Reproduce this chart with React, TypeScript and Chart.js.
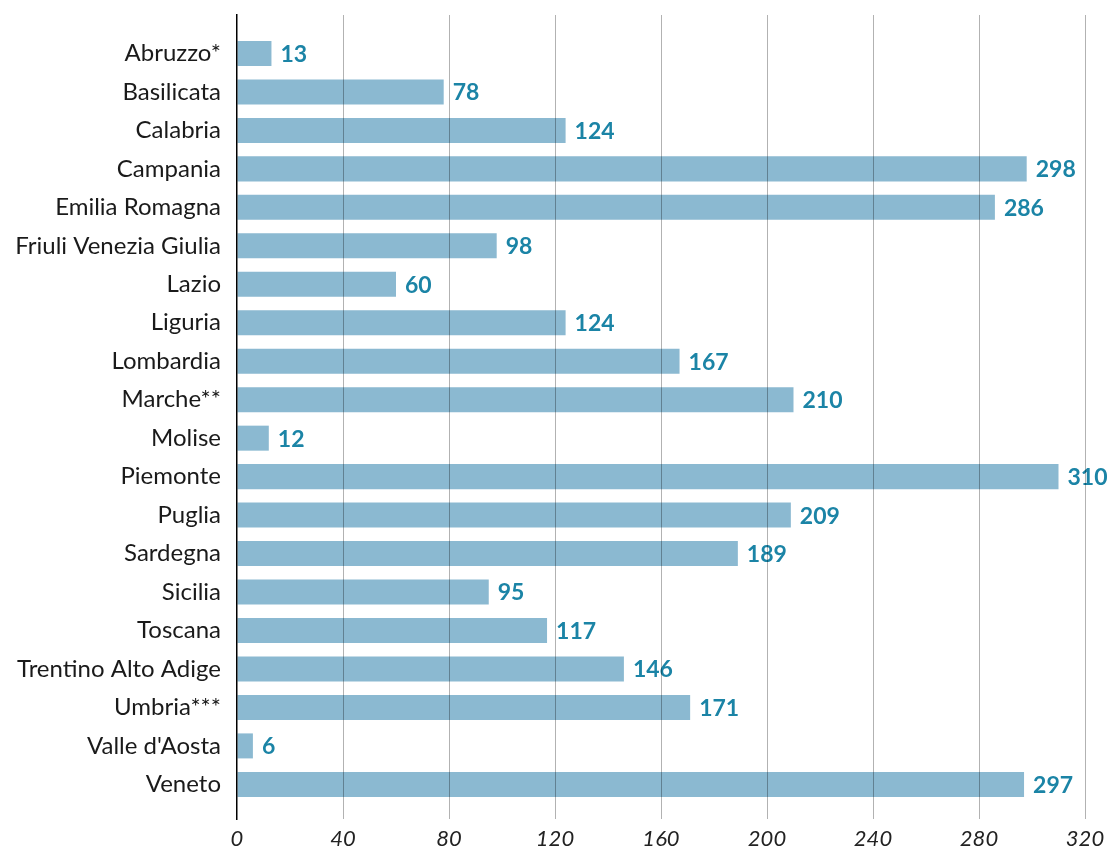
import React, { useEffect, useRef } from "react";
import { Chart, registerables } from "chart.js";

Chart.register(...registerables);

const regions: string[] = [
  "Abruzzo*",
  "Basilicata",
  "Calabria",
  "Campania",
  "Emilia Romagna",
  "Friuli Venezia Giulia",
  "Lazio",
  "Liguria",
  "Lombardia",
  "Marche**",
  "Molise",
  "Piemonte",
  "Puglia",
  "Sardegna",
  "Sicilia",
  "Toscana",
  "Trentino Alto Adige",
  "Umbria***",
  "Valle d'Aosta",
  "Veneto",
];

const values: number[] = [13, 78, 124, 298, 286, 98, 60, 124, 167, 210, 12, 310, 209, 189, 95, 117, 146, 171, 6, 297];

const xTicks: number[] = [0, 40, 80, 120, 160, 200, 240, 280, 320];

const BAR_COLOR = "#8bb9d1";
const LABEL_COLOR = "#1b84a6";

export default function App() {
  const canvasRef = useRef<HTMLCanvasElement | null>(null);

  useEffect(() => {
    document.body.style.margin = "0";
    const canvas = canvasRef.current;
    if (!canvas) return;

    const valueLabels = {
      id: "valueLabels",
      afterDatasetsDraw(chart: any) {
        const ctx = chart.ctx;
        const meta = chart.getDatasetMeta(0);
        ctx.save();
        ctx.fillStyle = LABEL_COLOR;
        ctx.font = "bold 23px Lato";
        ctx.textAlign = "left";
        ctx.textBaseline = "middle";
        meta.data.forEach((bar: any, i: number) => {
          ctx.fillText(String(values[i]), bar.x + 9, bar.y + 1);
        });
        ctx.restore();
      },
    };

    const chart = new Chart(canvas, {
      type: "bar",
      data: {
        datasets: [
          {
            data: values.map((v, i) => ({ x: v, y: i })),
            backgroundColor: BAR_COLOR,
            borderWidth: 0,
            barPercentage: 0.65,
            categoryPercentage: 1,
          },
        ],
      },
      options: {
        indexAxis: "y",
        animation: false,
        responsive: true,
        maintainAspectRatio: false,
        layout: { padding: { left: 0, right: 22, top: 15, bottom: 0 } },
        plugins: {
          legend: { display: false },
          tooltip: { enabled: false },
        },
        scales: {
          x: {
            type: "linear",
            position: "bottom",
            min: 0,
            max: 320,
            offset: false,
            afterBuildTicks: (scale: any) => {
              scale.ticks = xTicks.map((v) => ({ value: v }));
            },
            afterFit: (scale: any) => {
              scale.height = 29;
              scale.paddingLeft = 0;
              scale.paddingRight = 0;
            },
            grid: {
              color: (ctx: any) => (ctx.tick && ctx.tick.value === 0 ? "rgba(0,0,0,0)" : "rgba(0,0,0,0.3)"),
              lineWidth: 1,
              drawTicks: false,
              z: 1,
            },
            border: { display: false },
            ticks: {
              padding: 7,
              color: "#222",
              font: { family: "Lato", size: 22, style: "italic" },
              autoSkip: false,
              maxRotation: 0,
            },
          },
          y: {
            type: "linear",
            reverse: true,
            min: -1,
            max: 19.9,
            offset: false,
            afterBuildTicks: (scale: any) => {
              scale.ticks = regions.map((_, i) => ({ value: i }));
            },
            afterFit: (scale: any) => {
              scale.width = 237;
              scale.paddingTop = 0;
              scale.paddingBottom = 0;
            },
            grid: { display: false, drawTicks: false },
            border: { display: true, color: "#000", width: 1.5, z: 2 },
            ticks: {
              autoSkip: false,
              padding: 16,
              color: "#1a1a1a",
              font: { family: "Lato", size: 24 },
              callback: (v: any) => regions[Number(v)] ?? "",
            },
          },
        },
      },
      plugins: [valueLabels],
    } as any);

    return () => chart.destroy();
  }, []);

  return (
    <div style={{ width: "1107px", height: "848px", position: "relative" }}>
      <canvas ref={canvasRef} />
    </div>
  );
}
